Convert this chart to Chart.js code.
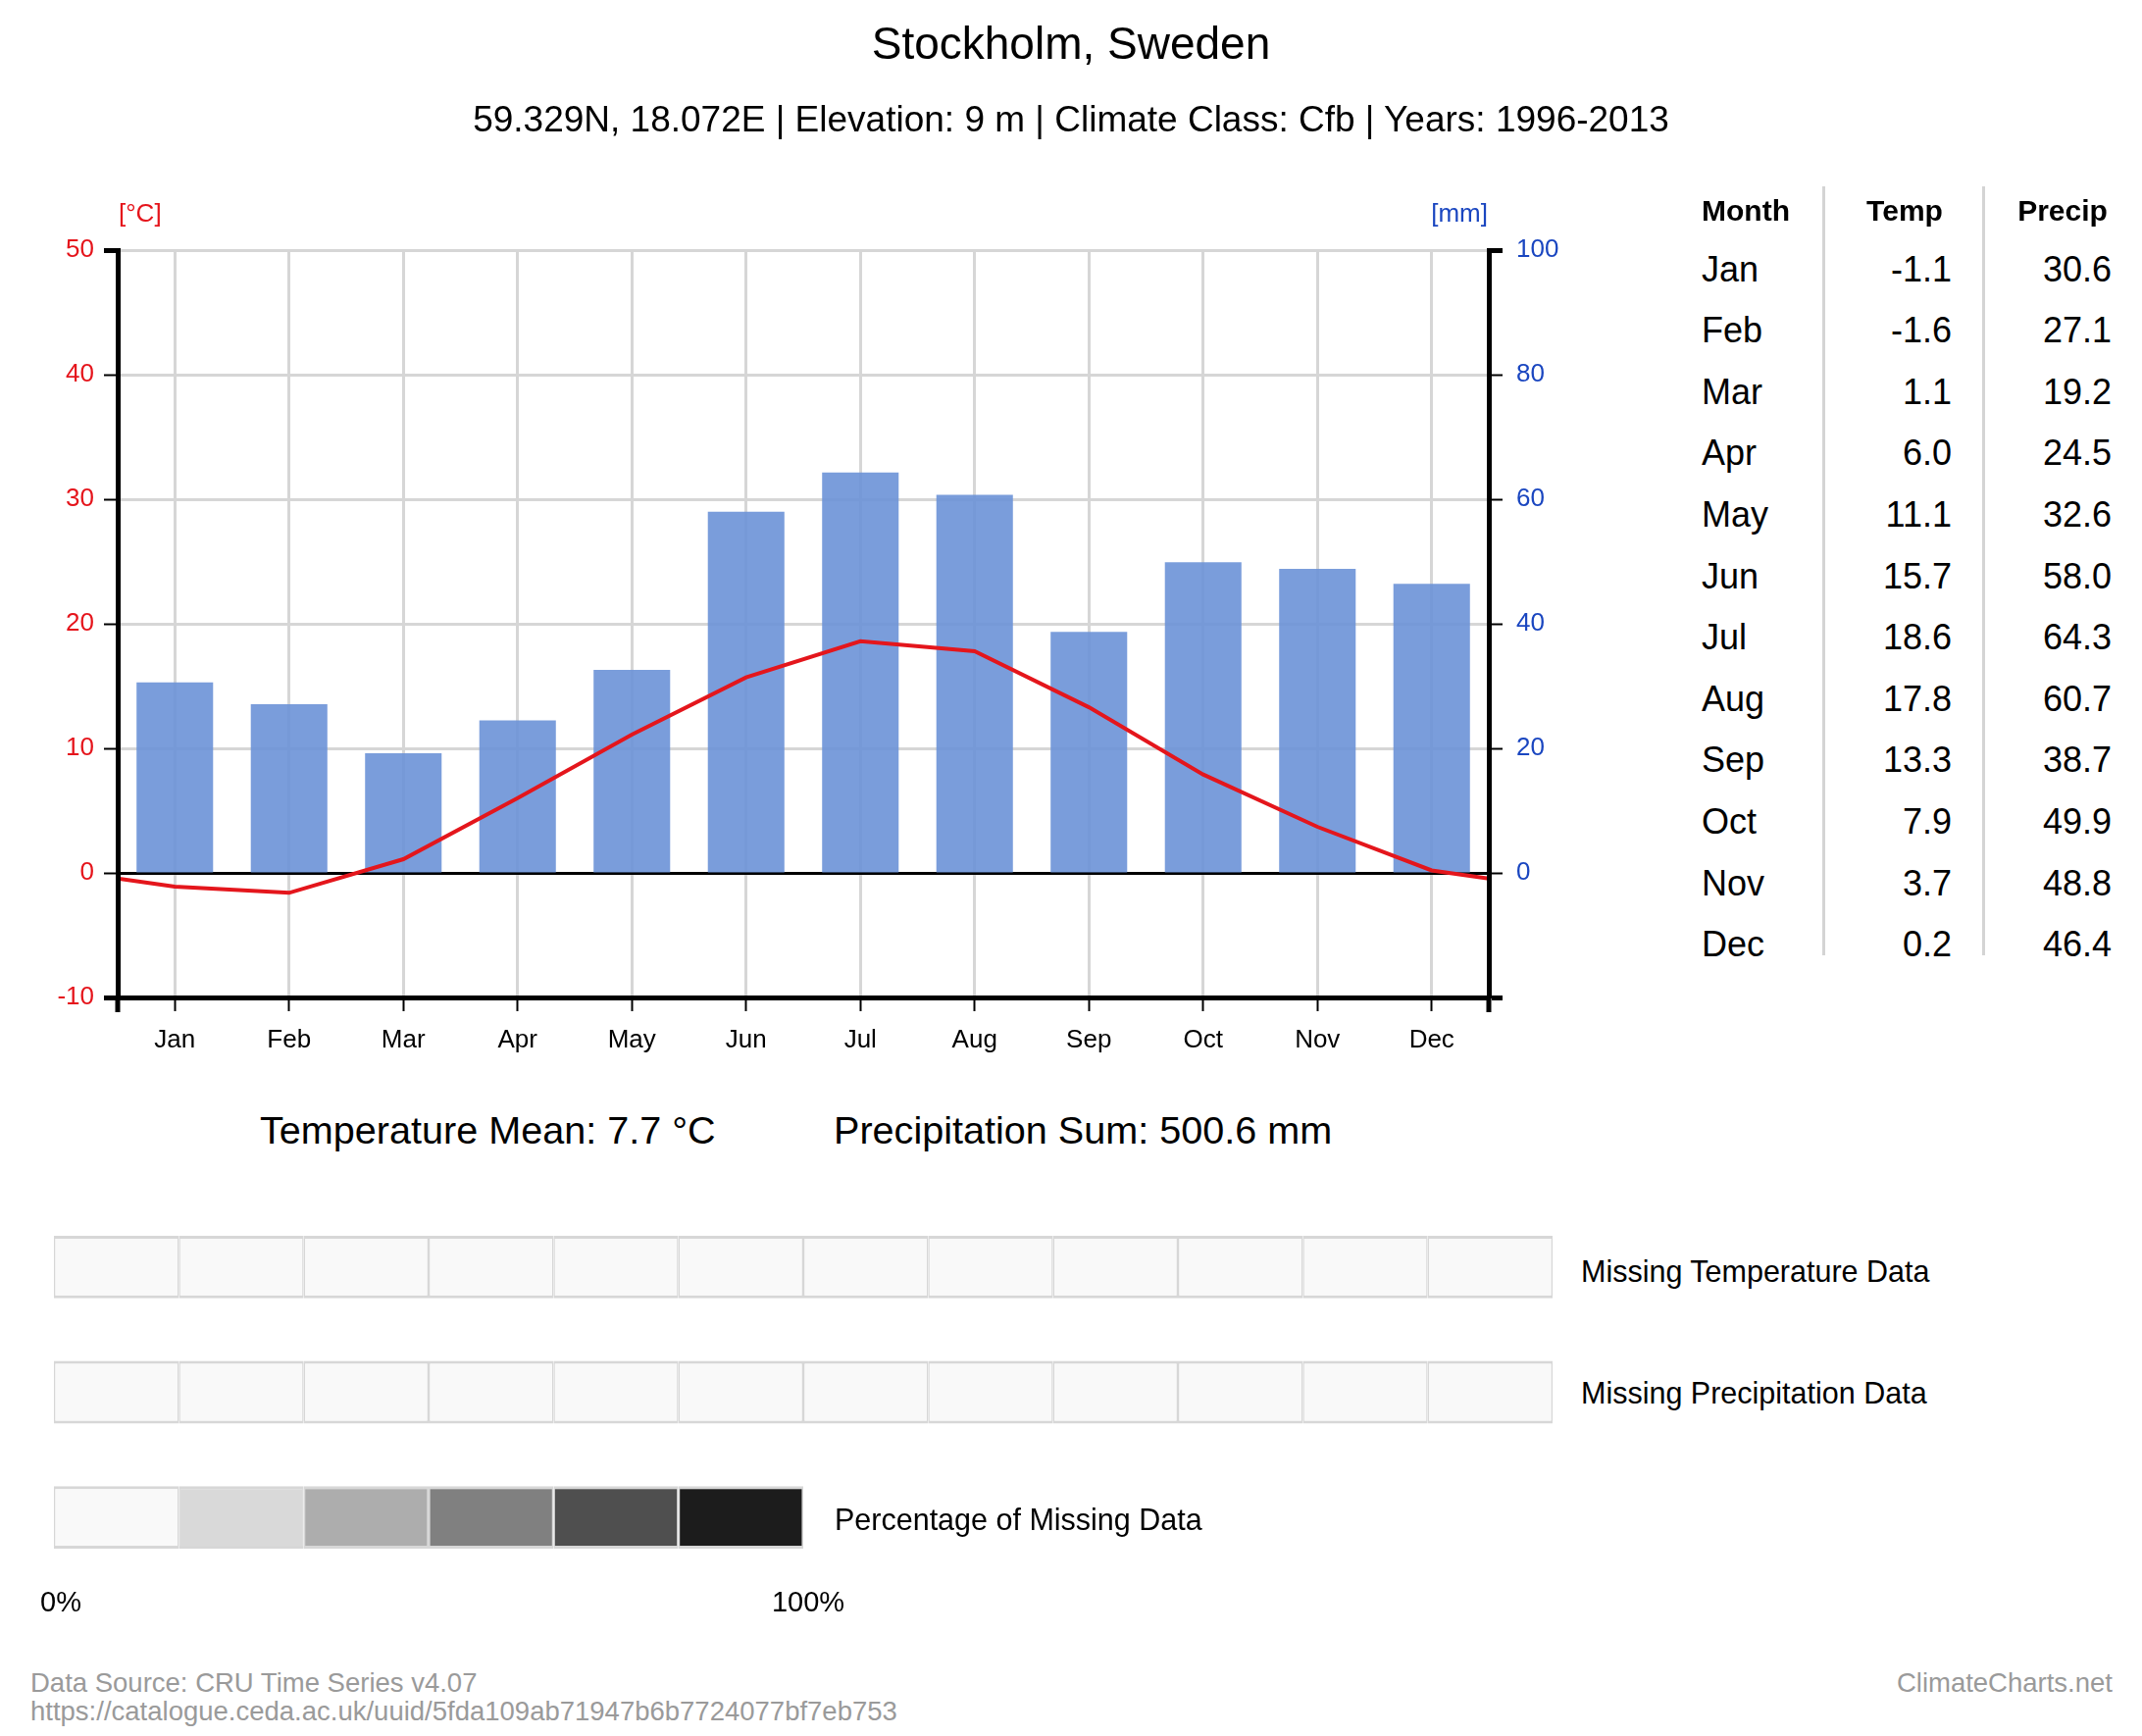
<!DOCTYPE html>
<html><head><meta charset="utf-8">
<script src="https://cdn.jsdelivr.net/npm/chart.js@4.4.1/dist/chart.umd.min.js"></script>
<style>
html,body{margin:0;padding:0;background:#fff;}
#page{position:relative;width:2184px;height:1770px;overflow:hidden;font-family:"Liberation Sans",Arial,Helvetica,sans-serif;background:#fff;}
.t{position:absolute;white-space:nowrap;line-height:1;}
canvas{position:absolute;}
.sep{position:absolute;background:#d4d4d4;width:3px;}
</style></head><body><div id="page">
<canvas id="main" width="1700" height="1100" style="left:0;top:0;width:1700px;height:1100px"></canvas>
<canvas id="missing" width="1600" height="440" style="left:0;top:1200px;width:1600px;height:440px"></canvas>
</div>
<script>
// ---- data ----
const months = ['Jan','Feb','Mar','Apr','May','Jun','Jul','Aug','Sep','Oct','Nov','Dec'];
const temperature = [-1.1,-1.6,1.1,6.0,11.1,15.7,18.6,17.8,13.3,7.9,3.7,0.2];
const precipitation = [30.6,27.1,19.2,24.5,32.6,58.0,64.3,60.7,38.7,49.9,48.8,46.4];
const edgeTemperature = -0.45; // value of the line where it meets both side axes
const tempTicks = [-10,0,10,20,30,40,50];
const precipTicks = [0,20,40,60,80,100];
const missingTemperature = [0,0,0,0,0,0,0,0,0,0,0,0];
const missingPrecipitation = [0,0,0,0,0,0,0,0,0,0,0,0];
const missingScale = [0,20,40,60,80,100];
const missingScaleColors = ['#f9f9f9','#d9d9d9','#adadad','#808080','#4f4f4f','#1c1c1c'];
const temperatureMean = 7.7;
const precipitationSum = 500.6;

// ---- helpers ----
const FONT = '"Liberation Sans", Arial, Helvetica, sans-serif';
const page = document.getElementById('page');
function label(text, x, y, size, align, color, weight) {
  const d = document.createElement('div');
  d.className = 't';
  d.textContent = text;
  d.style.fontSize = size + 'px';
  d.style.color = color || '#000';
  if (weight) d.style.fontWeight = weight;
  d.style.left = x + 'px';
  d.style.top = y + 'px';
  const tx = align === 'center' ? '-50%' : align === 'right' ? '-100%' : '0';
  d.style.transform = 'translate(' + tx + ',-50%)';
  page.appendChild(d);
}
function missingColor(p) {
  let best = 0;
  missingScale.forEach((v, i) => { if (Math.abs(v - p) < Math.abs(missingScale[best] - p)) best = i; });
  return missingScaleColors[best];
}

// ---- texts ----
const RED = '#e5141b', BLUE = '#1a46c0';
label('Stockholm, Sweden', 1092, 44, 46, 'center');
label('59.329N, 18.072E | Elevation: 9 m | Climate Class: Cfb | Years: 1996-2013', 1092, 121, 37, 'center');
label('[°C]', 121, 217, 26, 'left', RED);
label('[mm]', 1517, 217, 26, 'right', BLUE);
label('Temperature Mean: ' + temperatureMean.toFixed(1) + ' °C', 265, 1153, 39.6, 'left');
label('Precipitation Sum: ' + precipitationSum.toFixed(1) + ' mm', 850, 1153, 39.6, 'left');

// table
label('Month', 1735, 215, 30, 'left', '#000', 'bold');
label('Temp', 1942, 215, 30, 'center', '#000', 'bold');
label('Precip', 2103, 215, 30, 'center', '#000', 'bold');
months.forEach((m, i) => {
  const y = 274.5 + i * 62.6;
  label(m, 1735, y, 36, 'left');
  label(temperature[i].toFixed(1), 1990, y, 36, 'right');
  label(precipitation[i].toFixed(1), 2153, y, 36, 'right');
});
[1858, 2021].forEach(x => {
  const s = document.createElement('div');
  s.className = 'sep';
  s.style.left = x + 'px'; s.style.top = '190px'; s.style.height = '784px';
  page.appendChild(s);
});

// missing data legend texts
label('Missing Temperature Data', 1612, 1296, 30.5, 'left');
label('Missing Precipitation Data', 1612, 1420, 30.5, 'left');
label('Percentage of Missing Data', 851, 1549, 30.5, 'left');
label(missingScale[0] + '%', 62, 1633, 29, 'center');
label(missingScale[missingScale.length - 1] + '%', 824, 1633, 29, 'center');

// footer
label('Data Source: CRU Time Series v4.07', 31, 1716, 27.5, 'left', '#9a9a9a');
label('https://catalogue.ceda.ac.uk/uuid/5fda109ab71947b6b7724077bf7eb753', 31, 1745, 27.5, 'left', '#9a9a9a');
label('ClimateCharts.net', 2154, 1716, 27.5, 'right', '#9a9a9a');

// ---- main chart ----
Chart.defaults.font.family = FONT;
const cornerTicks = {
  id: 'cornerTicks',
  afterDraw(chart) {
    const { ctx, chartArea: a } = chart;
    ctx.save();
    ctx.strokeStyle = '#000';
    ctx.lineWidth = 5;
    ctx.beginPath();
    ctx.moveTo(a.left, a.bottom); ctx.lineTo(a.left, a.bottom + 15);
    ctx.moveTo(a.right, a.bottom); ctx.lineTo(a.right, a.bottom + 15);
    ctx.stroke();
    ctx.restore();
  }
};
const lineData = [{ x: 0.5, y: edgeTemperature }]
  .concat(temperature.map((t, i) => ({ x: i + 1, y: t })))
  .concat([{ x: 12.5, y: edgeTemperature }]);

new Chart(document.getElementById('main'), {
  type: 'bar',
  data: {
    labels: months,
    datasets: [
      { type: 'line', label: 'Temperature', data: lineData, xAxisID: 'x2', yAxisID: 'y',
        borderColor: 'rgb(228,22,28)', borderWidth: 4, pointRadius: 0, tension: 0, order: 0, fill: false },
      { type: 'bar', label: 'Precipitation', data: precipitation, xAxisID: 'x', yAxisID: 'y2',
        backgroundColor: 'rgba(108,146,215,0.9)', barPercentage: 0.67, categoryPercentage: 1,
        grouped: false, order: 1 }
    ]
  },
  options: {
    responsive: false, animation: false,
    layout: { padding: { top: 255, left: 0, right: 0, bottom: 0 } },
    plugins: { legend: { display: false }, tooltip: { enabled: false } },
    scales: {
      x: {
        type: 'category', offset: true, position: 'bottom',
        grid: { offset: false, color: '#d6d6d6', lineWidth: 3, drawTicks: true, tickLength: 14, tickColor: '#000', tickWidth: 2 },
        border: { display: true, color: '#000', width: 5, z: 1 },
        ticks: { color: '#000', font: { size: 26 }, padding: 14, maxRotation: 0, autoSkip: false },
        afterFit: s => { s.height = 83; }
      },
      x2: { type: 'linear', display: false, min: 0.5, max: 12.5, offset: false, grid: { offset: false } },
      y: {
        type: 'linear', position: 'left',
        min: tempTicks[0], max: tempTicks[tempTicks.length - 1],
        afterBuildTicks: s => { s.ticks = tempTicks.map(v => ({ value: v })); },
        ticks: { color: RED, font: { size: 26 }, padding: 10 },
        grid: {
          color: c => (c.tick && c.tick.value === 0) ? '#000' : '#d6d6d6',
          lineWidth: 3, tickLength: 14, tickColor: '#000',
          tickWidth: c => (c.tick && (c.tick.value === 50 || c.tick.value === -10)) ? 5 : 2
        },
        border: { color: '#000', width: 5, z: 1 },
        afterFit: s => { s.width = 120; }
      },
      y2: {
        type: 'linear', position: 'right', min: -20, max: 100,
        afterBuildTicks: s => { s.ticks = [-20].concat(precipTicks).map(v => ({ value: v })); },
        ticks: { color: BLUE, font: { size: 26 }, padding: 14, callback: v => v < 0 ? '' : v },
        grid: {
          drawOnChartArea: false, tickLength: 14, tickColor: '#000',
          tickWidth: c => (c.tick && (c.tick.value === 100 || c.tick.value === -20)) ? 5 : 2
        },
        border: { color: '#000', width: 5, z: 1 },
        afterFit: s => { s.width = 182; }
      }
    }
  },
  plugins: [cornerTicks]
});

// ---- missing data cells ----
new Chart(document.getElementById('missing'), {
  type: 'bar',
  data: {
    labels: ['Missing Temperature Data', 'Missing Precipitation Data', 'Percentage of Missing Data'],
    datasets: months.map((m, i) => ({
      label: m,
      data: [1, 1, i < missingScale.length ? 1 : null],
      backgroundColor: [missingColor(missingTemperature[i]), missingColor(missingPrecipitation[i]),
                        missingScaleColors[i] || '#fff'],
      borderColor: '#d7d7d7',
      borderWidth: { top: 3, bottom: 3, left: 1.5, right: 1.5 },
      borderSkipped: false,
      barPercentage: 0.5, categoryPercentage: 1
    }))
  },
  options: {
    indexAxis: 'y', responsive: false, animation: false,
    layout: { padding: { left: 55, right: 17, top: 28, bottom: 29 } },
    plugins: { legend: { display: false }, tooltip: { enabled: false } },
    scales: {
      x: { type: 'linear', stacked: true, min: 0, max: 12, display: false },
      y: { stacked: true, display: false }
    }
  }
});
</script>
</body></html>
